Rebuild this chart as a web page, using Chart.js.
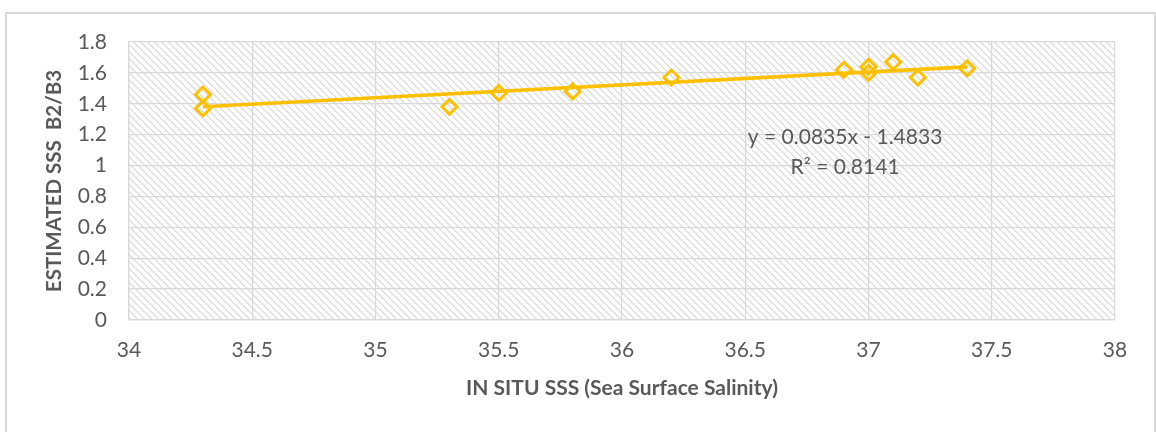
<!DOCTYPE html>
<html>
<head>
<meta charset="utf-8">
<script src="https://cdn.jsdelivr.net/npm/chart.js@4/dist/chart.umd.min.js"></script>
<style>
  html, body { margin: 0; padding: 0; background: #ffffff; }
  #wrap { position: relative; width: 1156px; height: 432px; }
</style>
</head>
<body>
<div id="wrap"><canvas id="c" width="1156" height="432"></canvas></div>
<script>
// Field samples: in-situ salinity vs. satellite B2/B3 estimate
const insituSSS = [34.3, 34.3, 35.3, 35.5, 35.8, 36.2, 36.9, 37.0, 37.0, 37.1, 37.2, 37.4];
const estimatedSSS = [1.46, 1.37, 1.38, 1.47, 1.48, 1.57, 1.62, 1.64, 1.60, 1.67, 1.57, 1.63];

// Linear fit reported on the chart
const fitSlope = 0.0835;
const fitIntercept = -1.4833;
const fitR2 = 0.8141;

const xTickLabels = ['34', '34.5', '35', '35.5', '36', '36.5', '37', '37.5', '38'];
const yTickLabels = ['0', '0.2', '0.4', '0.6', '0.8', '1', '1.2', '1.4', '1.6', '1.8'];

const GOLD = '#FFC000';
const TEXT = '#595959';
const GRID = '#d9d9d9';
const FONT = 'Lato, "Open Sans", sans-serif';

const xMinData = Math.min(...insituSSS);
const xMaxData = Math.max(...insituSSS);
const trendPoints = [xMinData, xMaxData].map(x => ({ x, y: fitSlope * x + fitIntercept }));
const samplePoints = insituSSS.map((x, i) => ({ x, y: estimatedSSS[i] }));

// Diagonal hatch used to fill the plot area
function makeHatch(ctx) {
  const n = 7;
  const tile = document.createElement('canvas');
  tile.width = n; tile.height = n;
  const t = tile.getContext('2d');
  t.fillStyle = '#ffffff';
  t.fillRect(0, 0, n, n);
  t.fillStyle = '#e1e1e1';
  for (let i = 0; i < n; i++) {
    t.fillRect(i, i, 1, 1);
    t.fillRect((i + 1) % n, i, 1, 1);
  }
  return ctx.createPattern(tile, 'repeat');
}

const framePlugin = {
  id: 'frame',
  beforeDraw(chart) {
    const { ctx, chartArea: a } = chart;
    ctx.save();
    ctx.strokeStyle = GRID;
    ctx.lineWidth = 2;
    ctx.strokeRect(6, 13, 1149, 600);
    ctx.fillStyle = makeHatch(ctx);
    ctx.fillRect(a.left, a.top, a.right - a.left, a.bottom - a.top);
    ctx.restore();
  }
};

const equationPlugin = {
  id: 'equation',
  afterDatasetsDraw(chart) {
    const { ctx, scales } = chart;
    const cx = scales.x.getPixelForValue(36.905);
    ctx.save();
    ctx.fillStyle = TEXT;
    ctx.font = '21px ' + FONT;
    ctx.textAlign = 'center';
    ctx.textBaseline = 'middle';
    const sign = fitIntercept < 0 ? ' - ' : ' + ';
    ctx.fillText('y = ' + fitSlope + 'x' + sign + Math.abs(fitIntercept), cx, scales.y.getPixelForValue(1.185));
    ctx.fillText('R² = ' + fitR2, cx, scales.y.getPixelForValue(0.99));
    ctx.restore();
  }
};

new Chart(document.getElementById('c'), {
  type: 'scatter',
  data: {
    datasets: [
      {
        label: 'Linear fit',
        type: 'line',
        data: trendPoints,
        borderColor: GOLD,
        borderWidth: 3.75,
        pointRadius: 0,
        fill: false,
        tension: 0
      },
      {
        label: 'Samples',
        data: samplePoints,
        pointStyle: 'rectRot',
        pointRadius: 7.5,
        pointHoverRadius: 7.5,
        borderColor: GOLD,
        backgroundColor: 'rgba(0,0,0,0)',
        borderWidth: 3
      }
    ]
  },
  options: {
    responsive: false,
    animation: false,
    events: [],
    layout: { padding: { left: 0, top: 42, right: 41, bottom: 0 } },
    plugins: {
      legend: { display: false },
      tooltip: { enabled: false }
    },
    scales: {
      x: {
        type: 'linear',
        min: 34,
        max: 38,
        ticks: {
          stepSize: 0.5,
          color: TEXT,
          font: { family: FONT, size: 21 },
          padding: 18,
          callback: (v, i) => xTickLabels[i]
        },
        grid: { color: GRID, lineWidth: 1.25, drawTicks: false },
        border: { color: GRID, width: 1.25 },
        title: {
          display: true,
          text: 'IN SITU SSS (Sea Surface Salinity)',
          color: TEXT,
          font: { family: FONT, size: 21, weight: 'bold' },
          padding: { top: 0, bottom: 31 }
        },
        afterFit(scale) { scale.height = 112; }
      },
      y: {
        type: 'linear',
        min: 0,
        max: 1.8,
        ticks: {
          stepSize: 0.2,
          color: TEXT,
          font: { family: FONT, size: 21 },
          padding: 22,
          callback: (v, i) => yTickLabels[i]
        },
        grid: { color: GRID, lineWidth: 1.25, drawTicks: false },
        border: { color: GRID, width: 1.25 },
        title: {
          display: true,
          text: 'ESTIMATED SSS  B2/B3',
          color: TEXT,
          font: { family: FONT, size: 20.5, weight: 'bold' },
          padding: { top: 42, bottom: 0 }
        },
        afterFit(scale) { scale.width = 129; }
      }
    }
  },
  plugins: [framePlugin, equationPlugin]
});
</script>
</body>
</html>
